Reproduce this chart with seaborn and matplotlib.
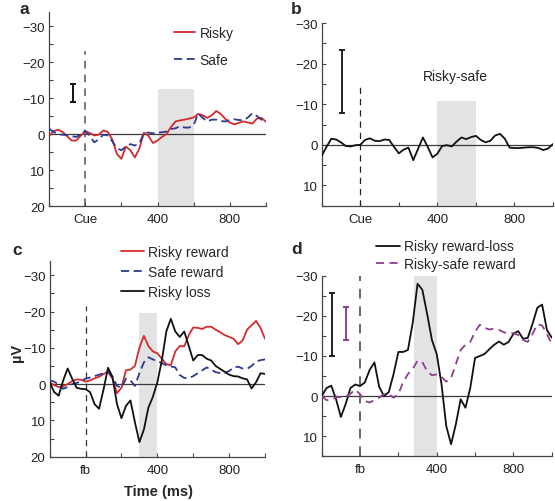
import numpy as np
import pandas as pd
import matplotlib
matplotlib.use("Agg")
import matplotlib.pyplot as plt
from matplotlib.ticker import MultipleLocator, FixedLocator
import seaborn as sns

# ---------------- data ----------------
time_ms = list(range(-200, 1001, 25))

a_risky = [0.6, -0.8, -1.2, -0.6, 0.6, 1.8, 1.8, 0.5, -0.8, -0.3, 0.4, 0.2, -1.0, -0.6, 1.5, 5.5,
           6.9, 3.5, 4.5, 6.5, 4.0, -0.4, 0.5, 2.5, 1.8, 0.8, 0.0, -2.0, -3.5, -3.8, -4.0, -4.3,
           -4.6, -5.6, -5.2, -4.5, -5.2, -6.4, -5.6, -4.2, -3.2, -2.7, -3.1, -3.5, -3.2, -2.9,
           -4.3, -4.5, -3.4]
a_safe = [-1.5, -0.6, 0.0, 0.2, 0.3, 0.6, 0.8, 0.2, -0.9, 0.5, 2.3, 1.5, 0.2, 0.4, 2.0, 4.0,
          4.5, 3.5, 2.8, 3.2, 2.6, -0.3, -0.4, -0.2, -0.4, -0.5, -0.7, -1.4, -1.6, -2.2, -1.8,
          -1.8, -2.5, -5.7, -4.5, -3.5, -4.0, -4.0, -3.6, -3.5, -3.9, -4.1, -3.9, -3.8, -4.6,
          -5.8, -5.0, -4.0, -3.5]
b_diff = [2.7, 0.5, -1.5, -1.3, -0.6, 0.3, 0.4, 0.1, 0.0, -1.2, -1.6, -1.0, -0.9, -1.3, -1.2,
          0.5, 2.1, 1.2, 0.7, 3.8, 1.0, -1.8, 0.5, 3.1, 2.2, 0.3, 0.1, 0.4, -0.8, -1.8, -1.4,
          -1.9, -2.2, -1.2, -0.6, -1.0, -2.3, -2.7, -1.5, 0.7, 0.8, 0.8, 0.7, 0.6, 0.6, 0.8,
          1.3, 0.9, -0.2]
c_risky_reward = [-0.5, 0.3, 0.8, 0.6, 0.0, -0.8, -1.3, -1.2, -0.7, -1.0, -1.6, -2.0, -2.8,
                  -3.4, -1.5, 2.5, 1.0, -3.8, -4.0, -5.0, -10.0, -13.3, -10.5, -9.0, -8.5,
                  -7.0, -5.5, -5.2, -9.0, -10.5, -10.4, -13.5, -15.6, -15.5, -15.2, -15.8,
                  -15.8, -15.0, -14.3, -13.5, -13.0, -12.5, -11.0, -12.0, -15.0, -16.2, -17.4,
                  -15.5, -12.5]
c_safe_reward = [-1.0, -0.7, 0.2, 1.3, 0.8, 0.0, -0.3, -0.8, -1.5, -1.8, -2.2, -2.6, -3.0,
                 -3.3, -2.0, 0.5, 1.0, -1.5, -1.0, 0.5, -3.0, -6.0, -7.4, -6.8, -6.3, -5.8,
                 -5.2, -4.9, -4.6, -2.5, -1.7, -1.7, -2.2, -3.0, -3.8, -4.6, -4.0, -3.3, -3.0,
                 -3.1, -3.6, -4.6, -4.8, -4.3, -4.2, -5.0, -6.2, -6.6, -6.8]
c_risky_loss = [-0.5, 2.2, 3.2, -1.0, -4.3, -1.5, 1.0, 1.3, 1.4, 2.2, 5.5, 6.8, 1.5, -4.5,
                -2.0, 5.5, 9.4, 6.0, 4.5, 10.5, 16.0, 12.5, 6.5, 3.5, -0.5, -6.5, -14.5,
                -18.0, -14.5, -13.0, -14.5, -10.5, -6.5, -8.0, -8.0, -7.0, -6.5, -5.0, -4.2,
                -3.4, -2.6, -2.2, -2.1, -1.6, -1.3, 1.2, -0.5, -3.0, -2.8]
d_reward_loss = [0.0, -2.0, -2.6, 0.8, 5.2, 2.0, -2.0, -2.9, -2.5, -3.4, -6.5, -8.4, -2.3,
                 0.0, -1.0, -5.5, -11.0, -11.0, -11.5, -18.3, -28.0, -26.5, -20.5, -14.0,
                 -10.5, -3.0, 7.5, 12.0, 7.0, 0.8, 2.9, -2.0, -9.5, -10.0, -10.5, -11.7,
                 -12.8, -13.6, -12.8, -13.5, -15.5, -16.2, -14.3, -14.5, -18.0, -22.0,
                 -22.8, -16.5, -14.6]
d_risky_safe = [0.0, 1.0, 1.0, 0.3, 0.2, 0.2, -0.6, -1.6, -0.5, 1.2, 1.6, 1.0, 0.4, -0.5,
                -0.5, 0.4, -0.5, -3.5, -5.5, -6.8, -8.8, -8.5, -6.2, -5.2, -5.4, -4.8, -3.6,
                -4.5, -8.0, -11.5, -12.8, -13.5, -16.0, -17.8, -17.0, -16.6, -16.8, -16.5,
                -15.9, -15.6, -15.7, -15.2, -14.0, -13.5, -15.5, -17.9, -17.6, -15.5, -13.0]

# analysis windows (ms) and their shaded heights (uV)
win_a, win_a_top = [400, 600], -12.5
win_b, win_b_top = [400, 600], -10.8
win_c, win_c_top = [300, 400], -19.5
win_d, win_d_top = [280, 400], -30

# scale bars (time, low, high)
bar_a = (-65, -14.0, -8.8)
bar_b = (-97, -23.4, -7.8)
bar_d_black = (-146, -25.8, -10.0)
bar_d_purple = (-71, -22.3, -13.9)

onset_top = {"a": -23, "b": -15, "c": -21.6, "d": -30}
xtick_vals = [0, 400, 800]

# ---------------- style ----------------
sns.set_style("ticks")
plt.rcParams["font.family"] = ["Liberation Sans", "DejaVu Sans"]
plt.rcParams["axes.unicode_minus"] = True
plt.rcParams["lines.solid_joinstyle"] = "round"
plt.rcParams["lines.dash_joinstyle"] = "round"
plt.rcParams["lines.solid_capstyle"] = "round"

RED = "#d42a2e"
BLUE = "#2c3a8f"
BLACK = "#111111"
PURPLE = "#8d3f8f"
SPINE = "#444444"

W, H = 555, 502
fig = plt.figure(figsize=(W / 100, H / 100), dpi=100)


def px_axes(l, t, r, b):
    return fig.add_axes([l / W, 1 - b / H, (r - l) / W, (b - t) / H])


ax_a = px_axes(49, 12.7, 266, 207)
ax_b = px_axes(321.7, 24, 553, 206.7)
ax_c = px_axes(49.7, 261.7, 265, 457.7)
ax_d = px_axes(321.7, 276.7, 551.7, 457.3)


def style_axes(ax, ylim, xlab0, onset, onset_color, onset_lw, win, win_top):
    ax.set_xlim(-200, 1000)
    ax.set_ylim(*ylim)
    ax.fill_between(win, [ylim[0]] * 2, [win_top] * 2, color="#e3e3e3", lw=0, zorder=0)
    ax.axhline(0, color="#3a3a3a", lw=0.9, zorder=1)
    ax.vlines(0, ylim[0], onset, colors=onset_color, linestyles=(0, (5, 4)), lw=onset_lw, zorder=1)
    ax.xaxis.set_major_locator(FixedLocator(xtick_vals))
    ax.set_xticklabels([xlab0] + [str(v) for v in xtick_vals[1:]])
    ax.xaxis.set_minor_locator(FixedLocator([-200, 200, 600, 1000]))
    ax.yaxis.set_major_locator(MultipleLocator(10))
    ax.yaxis.set_minor_locator(MultipleLocator(5))
    ax.tick_params(axis="both", which="both", direction="in", colors=SPINE,
                   labelcolor="#222222", labelsize=9.5, width=0.8)
    ax.tick_params(axis="both", which="major", length=3)
    ax.tick_params(axis="both", which="minor", length=3)
    ax.tick_params(axis="x", pad=5)
    ax.tick_params(axis="y", pad=3)
    for s in ["top", "right"]:
        ax.spines[s].set_visible(False)
    for s in ["left", "bottom"]:
        ax.spines[s].set_color(SPINE)
        ax.spines[s].set_linewidth(0.9)
    ax.set_xlabel("")
    ax.set_ylabel("")


def scale_bar(ax, bar, color):
    x, lo, hi = bar
    ax.errorbar([x], [(lo + hi) / 2], yerr=[(hi - lo) / 2], fmt="none", ecolor=color,
                elinewidth=1.4, capsize=2.2, capthick=1.4, zorder=3)


LW = 1.3

# panel a
sns.lineplot(x=time_ms, y=a_risky, ax=ax_a, color=RED, lw=LW, label="Risky", zorder=3)
sns.lineplot(x=time_ms, y=a_safe, ax=ax_a, color=BLUE, lw=LW, label="Safe",
             linestyle=(0, (4.5, 2.5)), zorder=3)
style_axes(ax_a, (20, -34), "Cue", onset_top["a"], "#555555", 1.1, win_a, win_a_top)
scale_bar(ax_a, bar_a, BLACK)
ax_a.legend(loc="upper left", bbox_to_anchor=(174 / W, 1 - 27 / H), bbox_transform=fig.transFigure,
            frameon=False, fontsize=10, handlelength=1.5, handletextpad=0.35, labelspacing=0.95,
            borderpad=0, borderaxespad=0)

# panel b
sns.lineplot(x=time_ms, y=b_diff, ax=ax_b, color=BLACK, lw=LW, zorder=3)
style_axes(ax_b, (15, -30), "Cue", onset_top["b"], "#222222", 0.9, win_b, win_b_top)
scale_bar(ax_b, bar_b, "#222222")
ax_b.text(495, -17, "Risky-safe", ha="center", va="center", fontsize=10, color="#222222")

# panel c
sns.lineplot(x=time_ms, y=c_risky_reward, ax=ax_c, color=RED, lw=LW, label="Risky reward", zorder=3)
sns.lineplot(x=time_ms, y=c_safe_reward, ax=ax_c, color=BLUE, lw=LW, label="Safe reward",
             linestyle=(0, (4.5, 2.5)), zorder=3)
sns.lineplot(x=time_ms, y=c_risky_loss, ax=ax_c, color=BLACK, lw=LW, label="Risky loss", zorder=3)
style_axes(ax_c, (20, -34), "fb", onset_top["c"], "#333333", 0.9, win_c, win_c_top)
ax_c.legend(loc="upper left", bbox_to_anchor=(121 / W, 1 - 246 / H), bbox_transform=fig.transFigure,
            frameon=False, fontsize=10, handlelength=1.65, handletextpad=0.3, labelspacing=0.42,
            borderpad=0, borderaxespad=0)

# panel d
sns.lineplot(x=time_ms, y=d_reward_loss, ax=ax_d, color=BLACK, lw=LW, label="Risky reward-loss", zorder=3)
sns.lineplot(x=time_ms, y=d_risky_safe, ax=ax_d, color=PURPLE, lw=LW, label="Risky-safe reward",
             linestyle=(0, (4.5, 3)), zorder=3)
style_axes(ax_d, (15, -30), "fb", onset_top["d"], "#666666", 1.4, win_d, win_d_top)
scale_bar(ax_d, bar_d_black, "#222222")
scale_bar(ax_d, bar_d_purple, PURPLE)
ax_d.legend(loc="upper left", bbox_to_anchor=(376 / W, 1 - 240.5 / H), bbox_transform=fig.transFigure,
            frameon=False, fontsize=10, handlelength=1.75, handletextpad=0.3, labelspacing=0.22,
            borderpad=0, borderaxespad=0)

# panel letters and axis labels
for letter, (x, y) in {"a": (19, 9), "b": (291, 9), "c": (12, 251), "d": (291, 250)}.items():
    fig.text(x / W, 1 - y / H, letter, fontsize=12.5, fontweight="bold", va="center", ha="left")
fig.text(17 / W, 1 - 353 / H, "µV", rotation=90, fontsize=10.5, fontweight="bold",
         ha="center", va="center")
fig.text(158 / W, 1 - 492 / H, "Time (ms)", fontsize=10.5, fontweight="bold", ha="center", va="center")

fig.savefig("out.png", dpi=100)
